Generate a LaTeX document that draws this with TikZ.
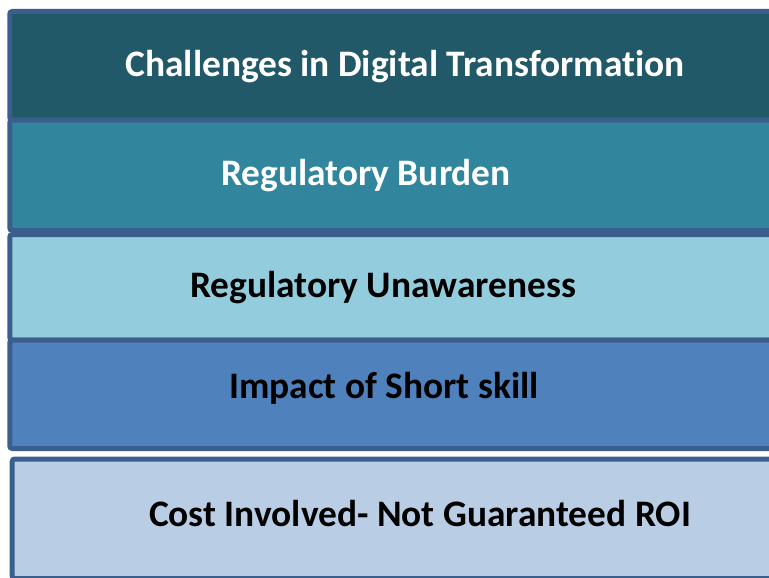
\documentclass[tikz,border=0pt]{standalone}
\usepackage{fontspec}
\setmainfont[Ligatures=NoCommon]{Carlito}
\definecolor{bandA}{HTML}{215968}
\definecolor{bandB}{HTML}{31859C}
\definecolor{bandC}{HTML}{93CDDD}
\definecolor{bandD}{HTML}{4F81BD}
\definecolor{bandE}{HTML}{B9CDE5}
\definecolor{edge}{HTML}{3A5F8D}
\tikzset{
  band/.style={draw=edge, line width=5pt, rounded corners=2.5pt},
  label/.style={font=\bfseries\fontsize{37.4}{42}\selectfont, inner sep=0pt, anchor=base},
}
\begin{document}
\begin{tikzpicture}[x=1pt,y=-1pt]
  \useasboundingbox (0,0) rectangle (769,578);
  \clip (0,0) rectangle (769,578);
  % stacked bands, running off the right edge
  \path[band, fill=bandA] (9.8,11.5) rectangle (790,120);
  \path[band, fill=bandB] (9.8,120) rectangle (790,230.5);
  \path[band, fill=bandC] (9.8,234.5) rectangle (790,340);
  \path[band, fill=bandD] (9.8,340) rectangle (790,448.5);
  \path[band, fill=bandE] (12.2,459) rectangle (790,578.5);
  % band captions, placed on their baselines
  \node[label, text=white] (challenges) at (405,76.5) {Challenges in Digital Transformation};
  \node[label, text=white] (burden) at (366,185) {Regulatory Burden};
  \node[label, text=black] (unaware) at (383,297) {Regulatory Unawareness};
  \node[label, text=black] (skill) at (384,398) {Impact of Short skill};
  \node[label, text=black] (cost) at (420,526) {Cost Involved- Not Guaranteed ROI};
\end{tikzpicture}
\end{document}
